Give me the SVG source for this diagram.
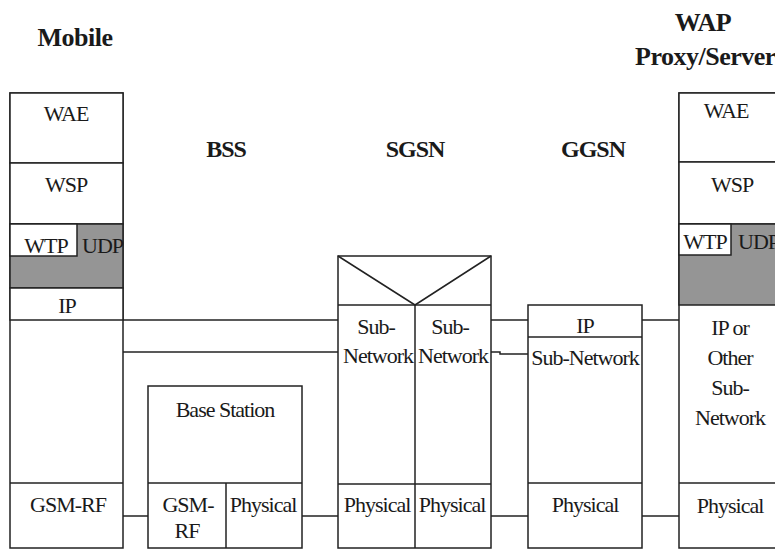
<svg xmlns="http://www.w3.org/2000/svg" width="775" height="550" viewBox="0 0 775 550">
<style>
.bx{fill:#fff;stroke:#222;stroke-width:1.5}
.gr{fill:#959595;stroke:#222;stroke-width:1.5}
.ln{fill:none;stroke:#222;stroke-width:1.5}
text{fill:#1a1a1a;font-family:"Liberation Serif","Times New Roman","DejaVu Serif",serif}
.t{font-size:22px;letter-spacing:-1px;text-anchor:middle}
.s{font-size:22px;letter-spacing:-1px}
.h{font-size:26px;font-weight:bold;letter-spacing:-0.5px;text-anchor:middle}
.n{font-size:24px;font-weight:bold;letter-spacing:-1px;text-anchor:middle}
</style>
<rect width="775" height="550" fill="#fff"/>
<g id="titles">
<text class="h" x="75" y="46">Mobile</text>
<text class="h" x="703" y="31">WAP</text>
<text class="h" x="635" y="65" style="text-anchor:start">Proxy/Server</text>
<text class="n" x="226" y="157">BSS</text>
<text class="n" x="415" y="157">SGSN</text>
<text class="n" x="593" y="157">GGSN</text>
</g>
<g id="connectors">
<line class="ln" x1="123" y1="320" x2="338" y2="320"/>
<line class="ln" x1="491" y1="320" x2="528" y2="320"/>
<line class="ln" x1="642" y1="320" x2="679" y2="320"/>
<line class="ln" x1="123" y1="352" x2="338" y2="352"/>
<path class="ln" d="M491 352 H500 V354 H528"/>
<line class="ln" x1="123" y1="516" x2="148" y2="516"/>
<line class="ln" x1="302" y1="516" x2="338" y2="516"/>
<line class="ln" x1="491" y1="516" x2="528" y2="516"/>
<line class="ln" x1="642" y1="516" x2="679" y2="516"/>
</g>
<g id="mobile">
<rect class="bx" x="10" y="93" width="113" height="455"/>
<rect class="bx" x="10" y="93" width="113" height="70"/>
<rect class="bx" x="10" y="163" width="113" height="61"/>
<rect class="gr" x="10" y="224" width="113" height="64"/>
<rect class="bx" x="10" y="224" width="67" height="32"/>
<rect class="bx" x="10" y="288" width="113" height="32"/>
<line class="ln" x1="10" y1="483" x2="123" y2="483"/>
<text class="t" x="66" y="121">WAE</text>
<text class="t" x="66" y="192">WSP</text>
<text class="t" x="46" y="253">WTP</text>
<text class="s" x="82" y="253">UDP</text>
<text class="t" x="67" y="313">IP</text>
<text class="t" x="68" y="512">GSM-RF</text>
</g>
<g id="bss">
<rect class="bx" x="148" y="386" width="154" height="162"/>
<line class="ln" x1="148" y1="483" x2="302" y2="483"/>
<line class="ln" x1="226" y1="483" x2="226" y2="548"/>
<text class="t" x="225" y="417">Base Station</text>
<text class="t" x="188" y="512">GSM-</text>
<text class="t" x="187" y="538">RF</text>
<text class="t" x="263" y="512">Physical</text>
</g>
<g id="sgsn">
<rect class="bx" x="338" y="256" width="153" height="292"/>
<line class="ln" x1="338" y1="305" x2="491" y2="305"/>
<path class="ln" d="M338 256 L415 305 L491 256"/>
<line class="ln" x1="415" y1="305" x2="415" y2="548"/>
<line class="ln" x1="338" y1="484" x2="491" y2="484"/>
<text class="t" x="376" y="334">Sub-</text>
<text class="t" x="378" y="363">Network</text>
<text class="t" x="450" y="334">Sub-</text>
<text class="t" x="453" y="363">Network</text>
<text class="t" x="377" y="512">Physical</text>
<text class="t" x="452" y="512">Physical</text>
</g>
<g id="ggsn">
<rect class="bx" x="528" y="305" width="114" height="243"/>
<line class="ln" x1="528" y1="337" x2="642" y2="337"/>
<line class="ln" x1="528" y1="483" x2="642" y2="483"/>
<text class="t" x="585" y="333">IP</text>
<text class="t" x="585" y="365">Sub-Network</text>
<text class="t" x="585" y="512">Physical</text>
</g>
<g id="wap-proxy">
<rect class="bx" x="679" y="93" width="120" height="455"/>
<rect class="bx" x="679" y="93" width="120" height="69"/>
<rect class="bx" x="679" y="162" width="120" height="62"/>
<rect class="gr" x="679" y="224" width="120" height="81"/>
<rect class="bx" x="679" y="224" width="52" height="31"/>
<line class="ln" x1="679" y1="483" x2="799" y2="483"/>
<text class="t" x="726" y="118">WAE</text>
<text class="t" x="732" y="192">WSP</text>
<text class="t" x="705" y="249">WTP</text>
<text class="s" x="738" y="249">UDP</text>
<text class="t" x="730" y="335">IP or</text>
<text class="t" x="730" y="365">Other</text>
<text class="t" x="730" y="395">Sub-</text>
<text class="t" x="730" y="425">Network</text>
<text class="t" x="730" y="513">Physical</text>
</g>
</svg>
